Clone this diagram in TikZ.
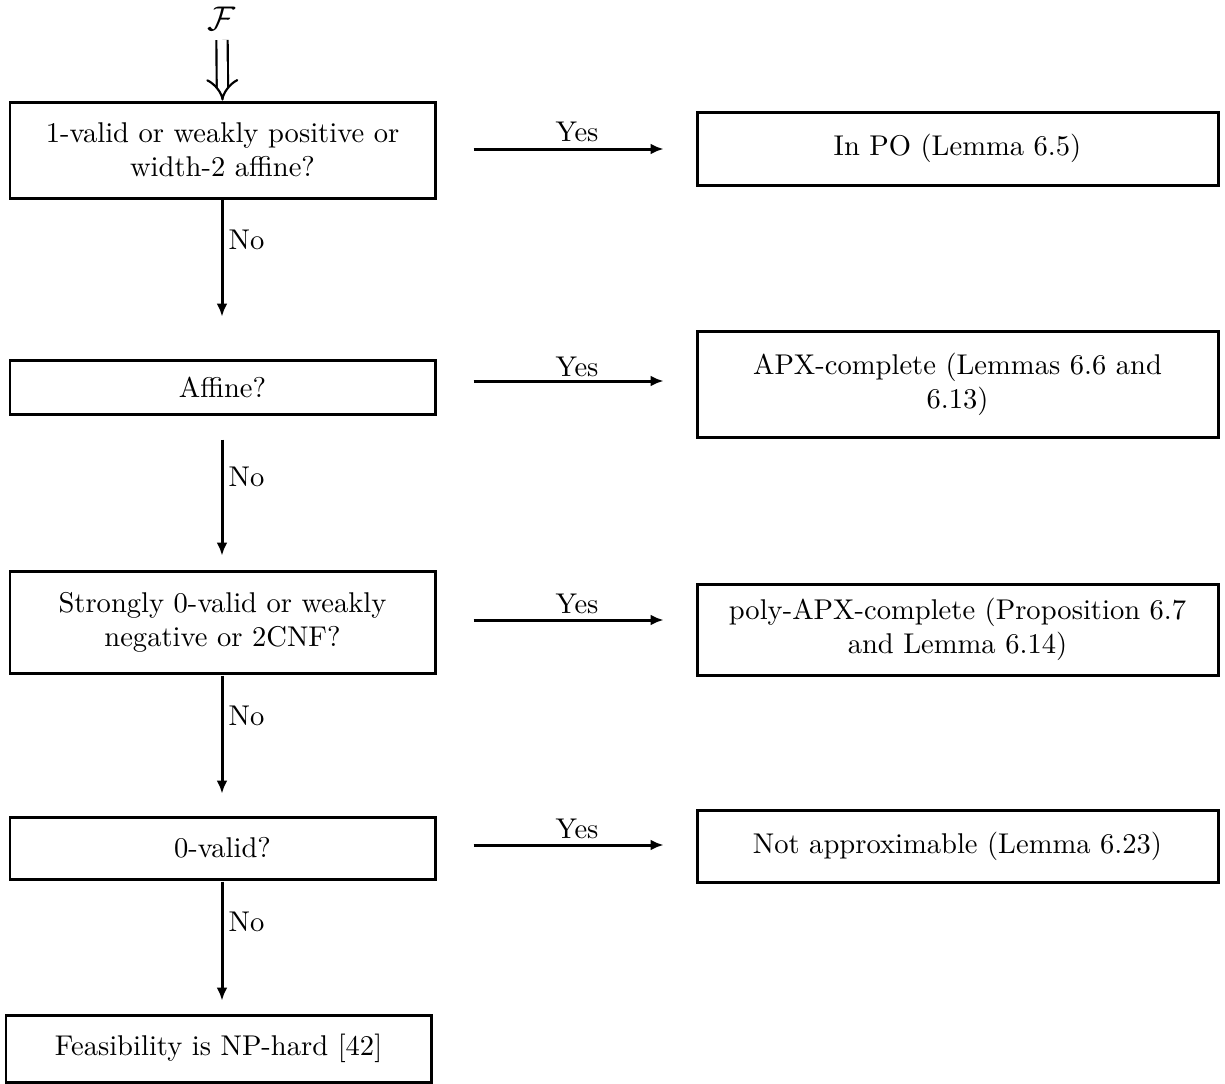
\documentclass[tikz,border=0pt]{standalone}
\usetikzlibrary{arrows.meta}
\begin{document}
\begin{tikzpicture}[x=0.35pt,y=-0.35pt,
  box/.style={draw,line width=1.05pt,align=center,inner sep=0pt,font=\fontsize{10}{11.9}\selectfont},
  flow/.style={line width=1.05pt,-{Latex[length=4.5pt,width=3.8pt]}},
  lab/.style={font=\fontsize{10}{12}\selectfont,inner sep=0pt}]
\useasboundingbox (0,0) rectangle (1225,1084);
% left column
\node[box,minimum width=425*0.35pt,minimum height=96*0.35pt] (q1) at (222.5,150) {1-valid or weakly positive or\\width-2 affine?};
\node[box,minimum width=425*0.35pt,minimum height=54*0.35pt] (q2) at (222.5,387) {Affine?};
\node[box,minimum width=425*0.35pt,minimum height=102*0.35pt] (q3) at (222.5,622) {Strongly 0-valid or weakly\\negative or 2CNF?};
\node[box,minimum width=425*0.35pt,minimum height=62*0.35pt] (q4) at (222.5,848) {0-valid?};
\node[box,minimum width=425*0.35pt,minimum height=67*0.35pt] (q5) at (218.5,1048.5) {Feasibility is NP-hard [42]};
% right column
\node[box,minimum width=521*0.35pt,minimum height=73*0.35pt] (r1) at (957.5,148.5) {In PO (Lemma 6.5)};
\node[box,minimum width=521*0.35pt,minimum height=106*0.35pt] (r2) at (957.5,384) {APX-complete (Lemmas 6.6 and\\6.13)};
\node[box,minimum width=521*0.35pt,minimum height=91*0.35pt] (r3) at (957.5,629.5) {poly-APX-complete (Proposition 6.7\\and Lemma 6.14)};
\node[box,minimum width=521*0.35pt,minimum height=72*0.35pt] (r4) at (957.5,846) {Not approximable (Lemma 6.23)};
% input
\node[lab,font=\fontsize{12.5}{14}\selectfont] (F) at (222,19) {$\mathcal{F}$};
\coordinate (Fs) at (222,40);
\draw[line width=0.75pt,double distance=3.2pt,-{Implies}] (Fs) -- (q1.north);
% Yes arrows
\draw[flow,shorten <=37*0.35pt,shorten >=32*0.35pt] (q1.east |- 0,149) -- (r1.west |- 0,149);
\draw[flow,shorten <=37*0.35pt,shorten >=32*0.35pt] (q2.east |- 0,381) -- (r2.west |- 0,381);
\draw[flow,shorten <=37*0.35pt,shorten >=32*0.35pt] (q3.east |- 0,620) -- (r3.west |- 0,620);
\draw[flow,shorten <=37*0.35pt,shorten >=32*0.35pt] (q4.east |- 0,845) -- (r4.west |- 0,845);
\node[lab] (y1) at (577,132) {Yes};
\node[lab] (y2) at (577,367) {Yes};
\node[lab] (y3) at (577,604) {Yes};
\node[lab] (y4) at (577,829) {Yes};
% No arrows
\draw[flow,shorten >=42*0.35pt] (q1.south -| 222,0) -- (q2.north -| 222,0);
\draw[flow,shorten <=24*0.35pt,shorten >=14*0.35pt] (q2.south -| 222,0) -- (q3.north -| 222,0);
\draw[flow,shorten <=1*0.35pt,shorten >=22*0.35pt] (q3.south -| 222,0) -- (q4.north -| 222,0);
\draw[flow,shorten <=1*0.35pt,shorten >=13*0.35pt] (q4.south -| 222,0) -- (q5.north -| 222,0);
\node[lab,anchor=west] (n1) at (228,240) {No};
\node[lab,anchor=west] (n2) at (228,477) {No};
\node[lab,anchor=west] (n3) at (228,716) {No};
\node[lab,anchor=west] (n4) at (228,922) {No};
\end{tikzpicture}
\end{document}
